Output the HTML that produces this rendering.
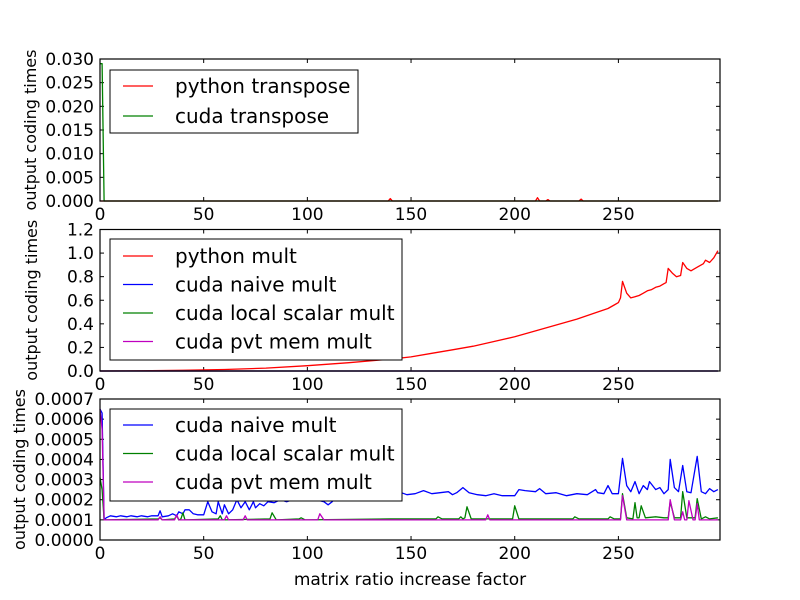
<!DOCTYPE html>
<html><head><meta charset="utf-8"><style>
body{margin:0;background:#fff}
svg{display:block;font-family:"DejaVu Sans","Liberation Sans",sans-serif}
</style></head><body>
<svg id="chart" width="800" height="600" viewBox="0 0 800 600" xmlns="http://www.w3.org/2000/svg">
<rect width="800" height="600" fill="#fff"/>
</svg>
<script>
const xTicks = [0, 50, 100, 150, 200, 250];
const topYTicks = ["0.000","0.005","0.010","0.015","0.020","0.025","0.030"];
const midYTicks = ["0.0","0.2","0.4","0.6","0.8","1.0","1.2"];
const botYTicks = ["0.0000","0.0001","0.0002","0.0003","0.0004","0.0005","0.0006","0.0007"];

const pyTransX = [0,139,140,141,210,211,212,215,216,217,231,232,233,298];
const pyTransY = [0,0,0.0005,0,0,0.0007,0,0,0.0003,0,0,0.0004,0,0];
const cuTransX = [0,1,2,298];
const cuTransY = [0.029,0.029,0,0];

const pyMultX = [0,20,40,60,80,100,120,140,150,160,170,180,190,200,210,220,230,240,245,248,250,251,252,254,256,258,260,262,264,266,268,270,272,273,274,276,278,280,281,283,285,288,291,292,294,296,298];
const pyMultY = [0,0.002,0.006,0.013,0.025,0.045,0.07,0.1,0.12,0.15,0.18,0.21,0.25,0.29,0.34,0.39,0.44,0.5,0.53,0.56,0.58,0.62,0.76,0.66,0.62,0.63,0.64,0.66,0.68,0.69,0.71,0.72,0.74,0.75,0.87,0.83,0.8,0.81,0.92,0.87,0.85,0.88,0.91,0.94,0.92,0.96,1.02];
const zeroX = [0,298];
const zeroY = [0.0003,0.0003];

const blueX = [0,1,2,3,5,8,10,13,15,18,20,23,25,28,29,30,33,35,37,38,40,41,43,45,47,50,52,54,56,57,59,60,62,64,66,68,70,72,74,75,77,79,81,84,87,90,93,96,100,104,108,110,112,115,118,120,124,128,132,136,140,144,148,152,156,160,164,168,170,172,175,178,182,186,190,194,198,200,202,205,210,212,215,220,225,230,235,239,240,243,245,247,250,252,254,256,258,260,262,264,265,268,270,272,274,275,277,279,281,283,285,288,290,292,294,296,298];
const blueY = [6.5,6.3,1.0,1.1,1.2,1.15,1.2,1.15,1.2,1.15,1.2,1.15,1.2,1.2,1.45,1.15,1.2,1.3,1.2,1.4,1.3,1.5,1.5,1.3,1.25,1.25,1.9,1.4,1.3,1.9,1.3,1.75,1.3,1.5,2.0,1.6,1.9,1.5,1.9,1.6,1.8,1.7,1.9,1.85,2.0,1.9,2.0,1.95,2.1,2.0,1.9,1.75,1.9,2.3,2.2,2.3,2.2,2.4,2.25,2.3,2.2,2.4,2.25,2.3,2.45,2.3,2.35,2.4,2.25,2.35,2.6,2.35,2.25,2.2,2.3,2.2,2.2,2.2,2.5,2.45,2.4,2.55,2.3,2.35,2.2,2.3,2.25,2.5,2.35,2.3,2.7,2.3,2.3,4.05,2.7,2.4,2.9,2.3,2.7,2.5,2.9,2.5,2.6,2.3,2.5,4.0,2.6,2.4,3.7,2.4,2.35,4.15,2.4,2.3,2.55,2.4,2.5];
const greenX = [0,1,2,28,29,30,36,37,38,39,40,41,57,58,59,82,83,85,96,97,99,140,162,163,165,173,174,175,176,177,179,199,200,202,228,229,231,245,246,248,251,252,254,257,258,259,260,261,263,268,272,274,275,277,280,281,283,287,288,290,292,294,298];
const greenY = [3.1,2.5,1.0,1.05,1.1,1.0,1.05,1.2,1.0,1.05,1.35,1.0,1.05,1.2,1.0,1.05,1.35,1.0,1.05,1.1,1.0,1.05,1.05,1.15,1.05,1.05,1.15,1.05,1.1,1.65,1.05,1.05,1.7,1.05,1.05,1.15,1.05,1.05,1.15,1.05,1.05,2.3,1.1,1.05,1.85,1.1,1.1,1.7,1.1,1.15,1.1,1.1,1.9,1.1,1.1,2.4,1.1,1.1,2.05,1.05,1.15,1.05,1.1];
const magX = [0,1,2,28,29,30,36,37,38,60,61,62,69,70,71,105,106,108,186,187,188,251,252,254,274,275,277,280,281,282,283,284,286,287,288,289,298];
const magY = [6.5,5.5,1.0,1.0,1.15,1.0,1.0,1.25,1.0,1.0,1.2,1.0,1.0,1.2,1.0,1.0,1.3,1.0,1.0,1.25,1.0,1.0,2.2,1.0,1.0,2.0,1.0,1.0,1.4,1.0,1.0,1.95,1.0,1.0,1.8,1.0,1.0];

const NS = "http://www.w3.org/2000/svg";
const svg = document.getElementById('chart');
const X0 = 100, X1 = 720, XMAX = 299;
const xs = v => X0 + v / XMAX * (X1 - X0);

function mk(tag, attrs, parent) {
  const e = document.createElementNS(NS, tag);
  for (const k in attrs) e.setAttribute(k, attrs[k]);
  (parent || svg).appendChild(e);
  return e;
}

function panel(name, top, bottom, ymax, yTicks, yStep, labelX) {
  const g = mk('g', {});
  
  
  const ys = v => bottom - v / ymax * (bottom - top);
  xTicks.forEach(t => {
    const x = xs(t);
    mk('line', {x1:x, x2:x, y1:bottom, y2:bottom-4, stroke:'#000'}, g);
    mk('line', {x1:x, x2:x, y1:top, y2:top+4, stroke:'#000'}, g);
    const tx = mk('text', {x:x, y:bottom+19, 'text-anchor':'middle', 'font-size':17}, g);
    tx.textContent = t;
    
    
  });
  yTicks.forEach((lab, i) => {
    const y = ys(i * yStep);
    mk('line', {x1:X0, x2:X0+4, y1:y, y2:y, stroke:'#000'}, g);
    mk('line', {x1:X1, x2:X1-4, y1:y, y2:y, stroke:'#000'}, g);
    const tx = mk('text', {x:X0-6, y:y+6, 'text-anchor':'end', 'font-size':17}, g);
    tx.textContent = lab;
    
    
  });
  const yl = mk('text', {transform:`translate(${labelX},${(top+bottom)/2}) rotate(-90)`, 'text-anchor':'middle', 'font-size':16}, g);
  yl.textContent = 'output coding times';
  
  
  return {g, ys, top, bottom};
}

function series(p, name, X, Y, scale, color) {
  const d = X.map((x, i) => (i ? 'L' : 'M') + xs(x).toFixed(1) + ',' + p.ys(Y[i] * scale).toFixed(1)).join('');
  const path = mk('path', {d, fill:'none', stroke:color, 'stroke-width':1.3, 'stroke-linejoin':'round'}, p.g);
  
  
}

function frame(p) {
  const r = mk('rect', {x:X0, y:p.top, width:X1-X0, height:p.bottom-p.top, fill:'none', stroke:'#000', 'stroke-width':1.2}, p.g);
  
  
}

function legend(p, name, x, y, w, h, items, y0, dy) {
  const g = mk('g', {}, p.g);
  
  
  mk('rect', {x, y, width:w, height:h, fill:'#fff', stroke:'#000', 'stroke-width':1}, g);
  items.forEach((it, i) => {
    const yy = y0 + i * dy;
    mk('line', {x1:123, x2:153, y1:yy, y2:yy, stroke:it[1], 'stroke-width':1.3}, g);
    const t = mk('text', {x:175, y:yy+7, 'font-size':20}, g);
    t.textContent = it[0];
    
    
  });
}

const p1 = panel('transpose-panel', 59, 201, 0.03, topYTicks, 0.005, 36);
series(p1, 'python-transpose-line', pyTransX, pyTransY, 1, '#ff0000');
series(p1, 'cuda-transpose-line', cuTransX, cuTransY, 1, '#008000');
frame(p1);
legend(p1, 'transpose-legend', 110, 70, 248, 63, [['python transpose','#ff0000'],['cuda transpose','#008000']], 86, 30);

const p2 = panel('mult-panel', 229.5, 371, 1.2, midYTicks, 0.2, 37);
series(p2, 'python-mult-line', pyMultX, pyMultY, 1, '#ff0000');
series(p2, 'cuda-naive-mult-line-mid', zeroX, zeroY, 1, '#0000ff');
series(p2, 'cuda-local-scalar-line-mid', zeroX, zeroY, 1, '#008000');
series(p2, 'cuda-pvt-mem-line-mid', zeroX, zeroY, 1, '#bf00bf');
frame(p2);
legend(p2, 'mult-legend', 110, 239, 292, 121, [['python mult','#ff0000'],['cuda naive mult','#0000ff'],['cuda local scalar mult','#008000'],['cuda pvt mem mult','#bf00bf']], 256, 28.5);

const p3 = panel('cuda-mult-panel', 399, 540, 0.0007, botYTicks, 0.0001, 25);
series(p3, 'cuda-naive-mult-line', blueX, blueY, 1e-4, '#0000ff');
series(p3, 'cuda-local-scalar-mult-line', greenX, greenY, 1e-4, '#008000');
series(p3, 'cuda-pvt-mem-mult-line', magX, magY, 1e-4, '#bf00bf');
frame(p3);
legend(p3, 'cuda-mult-legend', 110, 409, 292, 92, [['cuda naive mult','#0000ff'],['cuda local scalar mult','#008000'],['cuda pvt mem mult','#bf00bf']], 425, 28.5);

const xl = mk('text', {x:410, y:585, 'text-anchor':'middle', 'font-size':17});
xl.textContent = 'matrix ratio increase factor';


</script>
</body></html>
